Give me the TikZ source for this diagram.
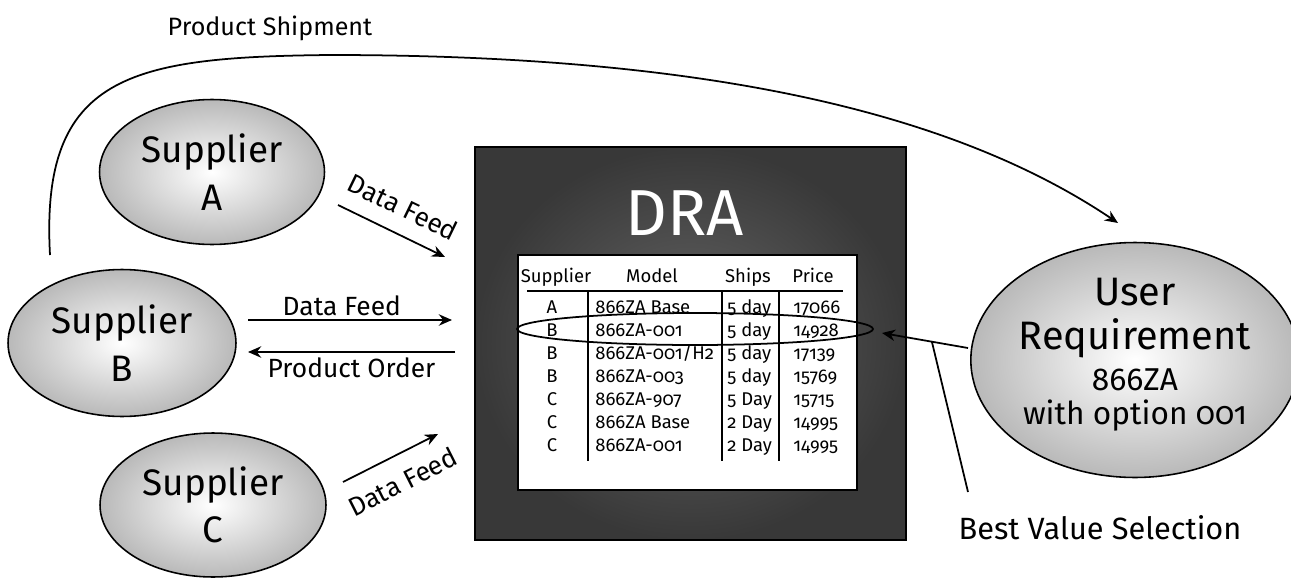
\documentclass[tikz,border=0pt]{standalone}
\usepackage{fontspec}
\setmainfont{Fira Sans}[Numbers=OldStyle]
\usetikzlibrary{arrows.meta,shapes.geometric}

\tikzset{
  party/.style={ellipse, draw, line width=0.9pt, shade, inner color=white,
    outer color=gray!55, align=center, inner sep=0pt},
  flow/.style={line width=1pt, ->},
  lbl/.style={font=\fontsize{15}{17}\selectfont, inner sep=1pt},
  cell/.style={font=\fontsize{10.5}{12}\selectfont, inner sep=0pt},
}

\begin{document}
\begin{tikzpicture}[x=0.02cm, y=-0.02cm, >={Stealth[length=7.5pt,width=6.5pt]}]
	\useasboundingbox (0,0) rectangle (1291,578);

	%Suppliers
	\node[party, minimum width=4.5cm, minimum height=2.9cm, font=\fontsize{21}{27}\selectfont] (supA) at (212,172) {Supplier\\A};
	\node[party, minimum width=4.56cm, minimum height=2.94cm, font=\fontsize{21}{27}\selectfont] (supB) at (122,343) {Supplier\\B};
	\node[party, minimum width=4.52cm, minimum height=2.88cm, font=\fontsize{21}{27}\selectfont] (supC) at (213,505) {Supplier\\C};

	%User
	\node[party, minimum width=6.12cm, minimum height=4.7cm, font=\fontsize{22.6}{25}\selectfont] (user) at (1135,360)
		{User\\Requirement\\[-1.7pt]{\fontsize{18}{20}\selectfont 866ZA}\\[-5.6pt]{\fontsize{18}{20}\selectfont with option 001\rule[-10pt]{0pt}{10pt}}};

	%DRA
	\node[draw, line width=0.8pt, shade, inner color=black!60, outer color=black!78,
		minimum width=8.62cm, minimum height=7.86cm] (dra) at (690.5,343.5) {};
	\node[text=white, font=\fontsize{37}{40}\selectfont] (title) at (685,213) {DRA};
	\node[draw, line width=0.9pt, fill=white, minimum width=6.78cm, minimum height=4.7cm] (tab) at (687.5,372.5) {};

	%table
	\foreach \x/\t in {556/Supplier, 652/Model, 748/Ships, 813/Price}
		\node[cell, anchor=base] (h-\t) at (\x,282) {\t};
	\draw[line width=1pt] (527,291) -- (843,291);
	\foreach \x in {588,722,779}
		\draw[line width=1pt] (\x,291) -- (\x,461);
	\foreach \s/\m/\d/\p [count=\i from 0] in {A/866ZA Base/5 day/17066, B/866ZA-001/5 day/14928,
		B/{866ZA-001/H2}/5 day/17139, B/866ZA-003/5 day/15769, C/866ZA-907/5 Day/15715,
		C/866ZA Base/2 Day/14995, C/866ZA-001/2 Day/14995}{
		\node[cell, anchor=base] (s-\i) at (552,313+23*\i) {\s};
		\node[cell, anchor=base west] (m-\i) at (595,313+23*\i) {\m};
		\node[cell, anchor=base west] (d-\i) at (727,313+23*\i) {\d};
		\node[cell, anchor=base west] (p-\i) at (793,313+23*\i) {\p};
	}
	\node[ellipse, draw, line width=1pt, minimum width=7.12cm, minimum height=0.64cm] (pick) at (695,329) {};

	%feeds
	\coordinate (a1) at (338,205);
	\coordinate (a2) at (445,257);
	\draw[flow] (a1) -- node[lbl, sloped, above=8pt, pos=0.5] {Data Feed} (a2);
	\coordinate (b1) at (248,320);
	\coordinate (b2) at (452,320);
	\draw[flow] (b1) -- node[lbl, above=1pt, pos=0.46] {Data Feed} (b2);
	\coordinate (o1) at (455,352);
	\coordinate (o2) at (248,352);
	\draw[flow] (o1) -- node[lbl, below=2pt] {Product Order} (o2);
	\coordinate (c1) at (343,482);
	\coordinate (c2) at (438,434);
	\draw[flow] (c1) -- node[lbl, sloped, below=8pt, pos=0.5] {Data Feed} (c2);

	%shipment
	\coordinate (ship1) at (50,255);
	\coordinate (ship2) at (1118,223);
	\draw[flow] (ship1) .. controls (40,75) and (130,57) .. (330,55) .. controls (700,55) and (950,110) .. (ship2);
	\node[lbl, font=\fontsize{14.3}{17}\selectfont] (shipLbl) at (270,28) {Product Shipment};

	%selection
	\coordinate (bv1) at (968,348);
	\coordinate (bv2) at (882,333);
	\draw[flow] (bv1) -- coordinate[pos=0.42] (bvm) (bv2);
	\coordinate (bvEnd) at (968,492);
	\draw[line width=1pt] (bvm) -- (bvEnd);
	\node[lbl, font=\fontsize{17.5}{19}\selectfont] (bvLbl) at (1100,528) {Best Value Selection};
\end{tikzpicture}
\end{document}
